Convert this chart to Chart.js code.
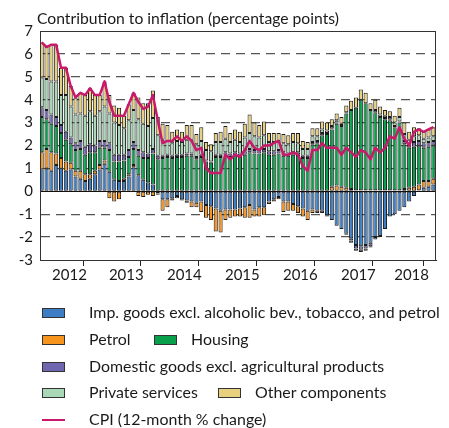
<!DOCTYPE html>
<html><head><meta charset="utf-8">
<script src="https://cdn.jsdelivr.net/npm/chart.js@4.4.0/dist/chart.umd.min.js"></script>
<style>
html,body{margin:0;padding:0;background:#fff;}
#wrap{position:relative;width:449px;height:428px;overflow:hidden;font-family:Lato,sans-serif;color:#1a1a1a;}
canvas{position:absolute;left:0;top:0;}
.txt{position:absolute;white-space:nowrap;line-height:1;}
.sw{position:absolute;box-sizing:border-box;width:23px;height:10px;border:1px solid #333;}
.ln{position:absolute;width:23px;height:2.5px;}
</style></head>
<body><div id="wrap"><canvas id="c" width="449" height="428"></canvas></div>
<script>
// ---- categories & tick labels ----
const years = ['2012','2013','2014','2015','2016','2017','2018'];
const monthNames = ['Jan','Feb','Mar','Apr','May','Jun','Jul','Aug','Sep','Oct','Nov','Dec'];
const months = [];
years.forEach(y => monthNames.forEach(m => months.push(m + ' ' + y)));
months.length = 82; // Jan 2012 - Oct 2018

const titleText = 'Contribution to inflation (percentage points)';
const seriesNames = [
  'Imp. goods excl. alcoholic bev., tobacco, and petrol',
  'Petrol',
  'Housing',
  'Domestic goods excl. agricultural products',
  'Private services',
  'Other components'
];
const cpiName = 'CPI (12-month % change)';

// ---- series values (percentage points) ----
const importedGoods = [
  0.95,1.0,0.9,1.15,1.0,0.9,0.95,0.65,0.55,0.45,0.55,0.75,
  0.95,1.2,0.85,0.5,0.45,0.45,0.65,1.05,0.7,0.5,0.4,0.3,
  -0.1,-0.35,-0.35,-0.3,-0.2,-0.35,-0.4,-0.45,-0.5,-0.45,-0.6,-0.65,
  -0.75,-0.85,-0.8,-0.8,-0.8,-0.75,-0.7,-0.6,-0.8,-0.7,-0.7,-0.45,
  -0.35,-0.25,-0.45,-0.45,-0.55,-0.65,-0.75,-0.85,-0.8,-0.85,-0.85,-1.05,
  -1.25,-1.5,-1.65,-1.85,-2.05,-2.35,-2.4,-2.35,-2.25,-2.0,-1.95,-1.65,
  -1.1,-1.0,-0.85,-0.7,-0.45,-0.2,0.05,0.15,0.2,0.3
];
const petrol = [
  0.75,0.85,0.8,0.5,0.45,0.4,0.3,0.25,0.35,0.3,0.2,0.15,
  0.2,0.15,-0.3,-0.45,-0.35,0.1,0.1,0.1,-0.2,-0.25,-0.15,-0.2,
  -0.05,-0.5,-0.35,-0.1,-0.1,-0.05,-0.1,-0.25,-0.2,-0.45,-0.55,-0.6,
  -1.0,-0.95,-0.45,-0.35,-0.3,-0.35,-0.45,-0.55,-0.3,-0.4,-0.35,-0.1,
  -0.1,-0.1,-0.45,-0.4,-0.3,-0.3,-0.35,-0.4,-0.15,-0.1,-0.1,-0.05,
  0.2,0.25,0.2,0.15,0.1,0.05,0.05,0.05,0.05,0.05,0.05,0.05,
  0.05,0.05,0.05,0.1,0.15,0.2,0.25,0.3,0.25,0.25
];
const housing = [
  1.55,1.3,1.25,1.2,1.1,0.95,0.8,0.9,0.95,0.85,0.95,0.8,
  0.75,0.55,0.95,0.8,0.85,0.8,0.75,0.7,0.85,0.95,1.05,1.35,
  1.4,1.45,1.5,1.45,1.5,1.5,1.55,1.55,1.4,1.5,1.3,1.25,
  1.5,1.5,1.55,1.5,1.55,1.5,1.6,1.7,1.65,1.65,1.7,1.6,
  1.6,1.65,1.55,1.55,1.6,1.6,1.45,1.45,2.05,2.1,2.45,2.5,
  2.5,2.7,2.65,3.25,3.45,3.6,3.95,3.8,3.5,3.4,3.2,3.1,
  3.05,2.75,2.95,1.95,1.75,1.75,1.7,1.45,1.5,1.45
];
const domesticGoods = [
  0.42,0.4,0.4,0.4,0.35,0.35,0.3,0.3,0.35,0.35,0.35,0.3,
  0.3,0.3,0.3,0.3,0.3,0.25,0.3,0.3,0.25,0.25,0.2,0.2,
  0.15,0.1,0.1,0.1,0.1,0.1,0.1,0.1,0.1,0.1,0.05,0.05,
  0.1,0.1,0.15,0.15,0.15,0.15,0.15,0.15,0.15,0.15,0.15,0.15,
  0.15,0.15,0.15,0.1,0.1,0.1,0.1,0.1,0.1,0.1,0.1,0.05,
  0.05,0.05,0.05,-0.05,-0.1,-0.15,-0.15,-0.15,-0.15,-0.1,-0.05,0.05,
  0.05,0.05,0.05,0.15,0.15,0.2,0.2,0.2,0.2,0.2
];
const privateServices = [
  1.3,1.35,1.45,1.55,1.3,1.6,1.35,1.25,1.2,1.35,1.45,1.3,
  1.3,1.5,1.3,1.4,1.3,1.15,1.3,1.4,1.35,1.25,1.2,1.35,
  0.9,0.7,0.6,0.55,0.6,0.55,0.6,0.6,0.55,0.6,0.45,0.45,
  0.55,0.55,0.6,0.5,0.55,0.5,0.6,0.7,0.6,0.55,0.6,0.4,
  0.4,0.4,0.4,0.4,0.45,0.4,0.3,0.3,0.25,0.2,0.15,0.1,
  0.1,0.1,0.05,0.05,-0.1,-0.1,-0.1,-0.1,-0.05,0.1,0.1,0.1,
  0.1,0.15,0.2,0.3,0.2,0.25,0.25,0.2,0.2,0.2
];
const otherComponents = [
  1.53,1.4,1.6,1.6,1.2,1.2,0.9,0.75,0.9,0.9,1.0,0.9,
  0.7,1.1,0.8,0.75,0.75,0.55,0.7,0.75,0.95,0.9,1.0,1.2,
  0.8,0.7,0.7,0.5,0.5,0.45,0.65,0.65,0.45,0.6,0.35,0.3,
  0.4,0.45,0.55,0.4,0.45,0.45,0.6,0.8,0.6,0.55,0.6,0.4,
  0.4,0.35,0.4,0.4,0.4,0.45,0.35,0.3,0.35,0.35,0.35,0.35,
  0.3,0.3,0.3,0.3,0.4,0.45,0.45,0.45,0.3,0.45,0.35,0.25,
  0.25,0.3,0.4,0.5,0.35,0.4,0.3,0.3,0.35,0.4
];
const cpi = [
  6.5,6.3,6.4,6.4,5.4,5.4,4.6,4.1,4.3,4.2,4.5,4.2,
  4.2,4.8,3.9,3.3,3.3,3.3,3.8,4.3,3.9,3.6,3.7,4.2,
  3.1,2.1,2.2,2.2,2.4,2.2,2.4,2.2,1.8,1.9,1.0,0.8,
  0.8,0.8,1.6,1.4,1.6,1.5,1.8,2.2,1.9,1.8,2.0,2.0,
  2.1,2.2,1.6,1.6,1.7,1.6,1.1,0.9,1.8,1.8,2.1,1.9,
  1.9,1.9,1.6,1.9,1.7,1.5,1.8,1.7,1.4,1.9,1.7,1.9,
  2.4,2.3,2.8,2.3,2.0,2.6,2.7,2.6,2.7,2.8
];

// ---- styles ----
const colors = ['#3D7DC3','#F7941D','#08A04B','#6E67B0','#A8D8B6','#E7D07E'];
const cpiColor = '#C8196A';
const FONT = 'Lato, sans-serif';

function fitSize(text, target, base) {
  const c = document.createElement('canvas').getContext('2d');
  c.font = base + 'px ' + FONT;
  return base * target / c.measureText(text).width;
}
const titleSize = fitSize(titleText, 302, 16);
const legendSize = fitSize(seriesNames[0], 351, 16);

const seriesValues = [importedGoods, petrol, housing, domesticGoods, privateServices, otherComponents];
const xy = arr => arr.map((v, i) => ({x: i, y: v}));

const datasets = [{
  type: 'line', label: cpiName, data: xy(cpi), borderColor: cpiColor, backgroundColor: cpiColor,
  borderWidth: 2.5, pointRadius: 0, tension: 0, order: 0, stack: 'cpi', borderJoinStyle: 'round'
}];
seriesValues.forEach((vals, k) => datasets.push({
  type: 'bar', label: seriesNames[k], data: xy(vals), backgroundColor: colors[k],
  borderColor: '#1b1b1b', borderWidth: 1, borderSkipped: false, stack: 'c', order: 1,
  barPercentage: 0.85, categoryPercentage: 1
}));

// x axis: year boundaries (tick marks) and year centres (labels)
const xMin = -0.35, xMax = 81.55;
const boundaries = [xMin, 11.5, 23.5, 35.5, 47.5, 59.5, 71.5, xMax];
const labelPos = [5.75, 17.5, 29.5, 41.5, 53.5, 65.5, 76.5];
const xTicks = boundaries.map(v => ({value: v, label: ''}))
  .concat(labelPos.map((v, k) => ({value: v, label: years[k]})))
  .sort((a, b) => a.value - b.value);

const boxPlugin = {
  id: 'box',
  afterDatasetsDraw(chart) {
    const {ctx, chartArea: a} = chart;
    ctx.save();
    ctx.strokeStyle = '#333';
    ctx.lineWidth = 1;
    ctx.strokeRect(Math.round(a.left) + 0.5, Math.round(a.top) + 0.5,
      Math.round(a.right - a.left) - 1, Math.round(a.bottom - a.top));
    ctx.restore();
  }
};

const chart = new Chart(document.getElementById('c'), {
  type: 'bar',
  data: {datasets},
  options: {
    animation: false, responsive: false, devicePixelRatio: 1,
    layout: {padding: {top: 31, right: 13, left: 0, bottom: 138}},
    plugins: {legend: {display: false}, tooltip: {enabled: false}, title: {display: false}},
    scales: {
      x: {
        type: 'linear', min: xMin, max: xMax, stacked: true, offset: false,
        afterBuildTicks: s => { s.ticks = xTicks.map(t => ({value: t.value})); },
        afterFit: s => { s.height = 30; },
        grid: {
          drawOnChartArea: false, drawTicks: true, tickLength: 6, lineWidth: 1,
          tickColor: c => (c.tick && labelPos.includes(c.tick.value)) ? 'rgba(0,0,0,0)' : '#222'
        },
        border: {display: true, color: '#222', width: 1},
        ticks: {
          autoSkip: false, maxRotation: 0, minRotation: 0, padding: 0, color: '#1a1a1a',
          font: {family: FONT, size: 15},
          callback: v => { const t = xTicks.find(q => q.value === v); return t ? t.label : ''; }
        }
      },
      y: {
        stacked: true, min: -3, max: 7,
        afterFit: s => { s.width = 40; },
        ticks: {stepSize: 1, padding: 7, color: '#1a1a1a', font: {family: FONT, size: 15}},
        grid: {
          drawTicks: false,
          color: c => {
            if (!c.tick) return '#222';
            const v = c.tick.value;
            if (v === -3 || v === 7) return 'rgba(0,0,0,0)';
            return v === 0 ? '#111' : '#555';
          },
          lineWidth: c => (c.tick && c.tick.value === 0) ? 1 : 1.3
        },
        border: {
          display: true, color: '#222', width: 1,
          dash: c => (c.tick && c.tick.value !== 0) ? [9, 6] : []
        }
      }
    }
  },
  plugins: [boxPlugin]
});

// ---- title & legend (HTML text) ----
const wrap = document.getElementById('wrap');
function addText(text, left, baseline, size) {
  const d = document.createElement('div');
  d.className = 'txt';
  d.textContent = text;
  d.style.fontSize = size + 'px';
  d.style.left = left + 'px';
  d.style.top = (baseline - 0.887 * size) + 'px';
  wrap.appendChild(d);
}
addText(titleText, 37, 25, titleSize);

const rowCenters = [313.3, 340, 366.7, 393.3, 420];
const legendLayout = [
  [{ds: 1, sx: 42, tx: 89}],
  [{ds: 2, sx: 42, tx: 89}, {ds: 3, sx: 154, tx: 191}],
  [{ds: 4, sx: 42, tx: 89}],
  [{ds: 5, sx: 42, tx: 89}, {ds: 6, sx: 218, tx: 255}],
  [{ds: 0, sx: 42, tx: 89}]
];
legendLayout.forEach((row, r) => {
  const cy = rowCenters[r];
  row.forEach(item => {
    const ds = chart.data.datasets[item.ds];
    const s = document.createElement('div');
    if (ds.type === 'line') {
      s.className = 'ln';
      s.style.background = ds.borderColor;
      s.style.top = (cy - 1.25) + 'px';
    } else {
      s.className = 'sw';
      s.style.background = ds.backgroundColor;
      s.style.top = (cy - 5) + 'px';
    }
    s.style.left = item.sx + 'px';
    wrap.appendChild(s);
    addText(ds.label, item.tx, cy + 5, legendSize);
  });
});
</script>
</body></html>
